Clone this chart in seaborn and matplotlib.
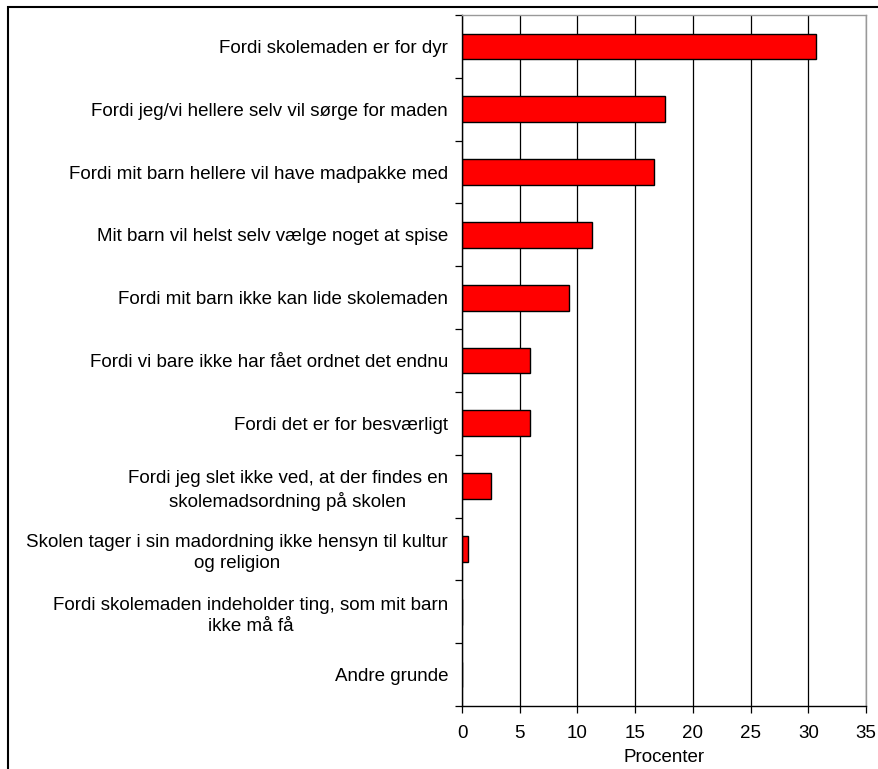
import pandas as pd
import seaborn as sns
import matplotlib.pyplot as plt
from matplotlib.patches import Rectangle
from matplotlib.ticker import FixedLocator

reasons = [
    "Fordi skolemaden er for dyr",
    "Fordi jeg/vi hellere selv vil sørge for maden",
    "Fordi mit barn hellere vil have madpakke med",
    "Mit barn vil helst selv vælge noget at spise",
    "Fordi mit barn ikke kan lide skolemaden",
    "Fordi vi bare ikke har fået ordnet det endnu",
    "Fordi det er for besværligt",
    "Fordi jeg slet ikke ved, at der findes en\nskolemadsordning på skolen",
    "Skolen tager i sin madordning ikke hensyn til kultur\nog religion",
    "Fordi skolemaden indeholder ting, som mit barn\nikke må få",
    "Andre grunde",
]
percent = [30.7, 17.6, 16.6, 11.3, 9.3, 5.9, 5.9, 2.5, 0.5, 0, 0]
x_ticks = [0, 5, 10, 15, 20, 25, 30, 35]

df = pd.DataFrame({"reason": reasons, "percent": percent})

sns.set_theme(style="white")
plt.rcParams["font.family"] = ["Liberation Sans", "DejaVu Sans"]
plt.rcParams["text.color"] = "black"
plt.rcParams["axes.labelcolor"] = "black"
plt.rcParams["xtick.color"] = "black"
plt.rcParams["ytick.color"] = "black"

fs = 13.5

fig = plt.figure(figsize=(8.79, 7.69), dpi=100)
ax = fig.add_axes([462 / 879, 1 - 706 / 769, (866 - 462) / 879, (706 - 15) / 769])

sns.barplot(
    data=df,
    x="percent",
    y="reason",
    order=reasons,
    orient="h",
    color="#ff0000",
    saturation=1,
    edgecolor="black",
    linewidth=1,
    width=0.41,
    ax=ax,
)

ax.set_xlim(0, 35)
ax.set_xticks(x_ticks)
ax.set_xticklabels([str(t) for t in x_ticks], fontsize=fs)
ax.set_xlabel("Procenter", fontsize=fs, labelpad=5)
ax.set_ylabel("")
ax.set_axisbelow(True)
ax.xaxis.grid(True, color="black", linewidth=0.9)
ax.yaxis.grid(False)

# category labels without marks, boundary ticks as minor ticks
ax.tick_params(axis="y", which="major", length=0, pad=10, labelsize=fs)
for lbl in ax.get_yticklabels():
    lbl.set_multialignment("center")
    lbl.set_linespacing(1.3)
ax.yaxis.set_minor_locator(FixedLocator([i - 0.5 for i in range(len(reasons) + 1)]))
ax.tick_params(axis="y", which="minor", left=True, length=5, width=0.9, color="black", direction="out")
ax.tick_params(axis="x", which="major", bottom=True, length=5, width=0.9, color="black", direction="out", pad=9)

for side in ["left", "bottom"]:
    ax.spines[side].set_color("black")
    ax.spines[side].set_linewidth(1)
for side in ["top", "right"]:
    ax.spines[side].set_color("#999999")
    ax.spines[side].set_linewidth(1)

# frame around the chart
fig.patches.append(Rectangle((8 / 879, -0.1), 1.2, 1.1 - 7 / 769, transform=fig.transFigure,
                             fill=False, edgecolor="black", linewidth=1.5))

fig.savefig("out.png", dpi=100)
plt.close()
